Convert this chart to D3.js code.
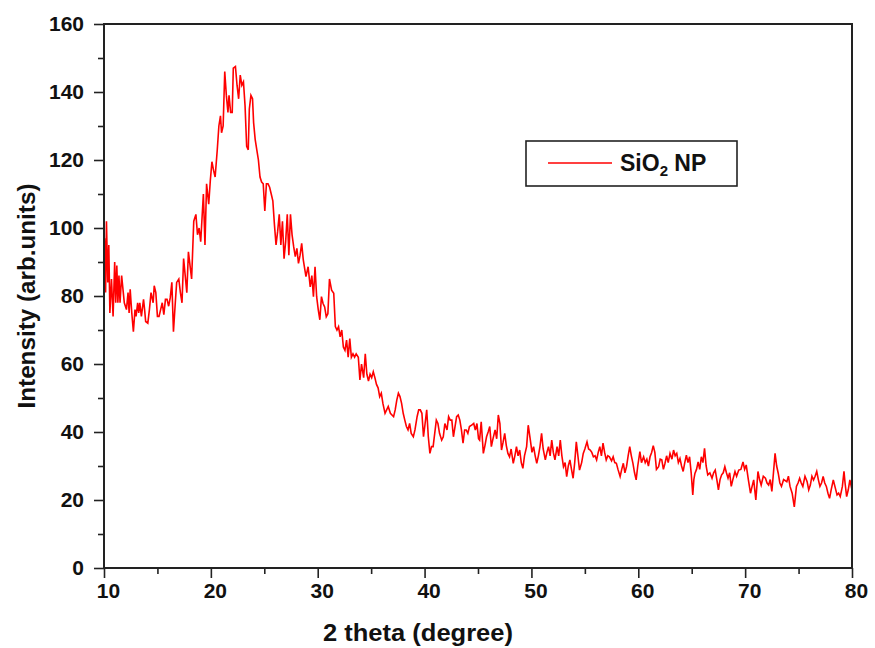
<!DOCTYPE html>
<html>
<head>
<meta charset="utf-8">
<script src="https://cdn.jsdelivr.net/npm/d3@7"></script>
<style>
  body { margin: 0; background: #fff; }
  svg text { font-family: "Liberation Sans", Arial, sans-serif; font-weight: bold; fill: #111; }
</style>
</head>
<body>
<svg id="xrd" width="875" height="648"></svg>
<script>
// tick values
var xTicks = [10, 20, 30, 40, 50, 60, 70, 80];
var yTicks = [0, 20, 40, 60, 80, 100, 120, 140, 160];
var seriesName = "SiO2 NP";

// XRD scan: [2 theta, intensity]
var scan = [
  [10.0,77],[10.05,97],[10.15,81],[10.23,102],[10.35,84],[10.45,95],[10.55,75],[10.7,85],[10.85,74],[11.0,90],
  [11.1,78],[11.2,89],[11.3,78],[11.4,86],[11.5,78],[11.65,86],[11.9,78],[12.1,76],[12.25,81],[12.35,75],
  [12.45,82],[12.6,75],[12.75,69.5],[12.9,76],[13.0,74],[13.15,78],[13.25,75],[13.35,78],[13.5,74],[13.7,79],
  [13.8,76],[13.9,72.5],[14.1,72],[14.25,76],[14.4,81],[14.6,78],[14.7,83],[14.85,81],[15.0,74],[15.15,74],
  [15.3,76],[15.45,78],[15.6,74.5],[15.75,79],[15.9,79],[16.05,77],[16.2,79.5],[16.35,84],[16.5,69.5],[16.65,77],
  [16.8,84],[17.0,85],[17.15,81],[17.3,78],[17.45,91],[17.6,86],[17.75,81],[17.9,93],[18.05,89],[18.2,85],
  [18.4,102],[18.6,104],[18.75,98],[18.9,100],[19.05,96],[19.3,110],[19.45,95],[19.6,113],[19.8,107],[19.95,114],
  [20.1,119.5],[20.25,117],[20.4,115],[20.6,123],[20.75,130],[20.9,133],[21.0,128],[21.15,130],[21.3,146],[21.45,139],
  [21.6,134],[21.7,139],[21.85,134],[22.0,134],[22.1,147],[22.3,147.5],[22.45,142],[22.6,138],[22.75,145],[22.9,142],
  [23.05,143],[23.2,136],[23.35,124],[23.5,123],[23.6,135],[23.75,139],[23.9,138],[24.0,131],[24.15,126],[24.3,123],
  [24.45,120],[24.6,115],[24.75,113.5],[24.9,113],[25.05,105],[25.2,113],[25.35,113],[25.5,112],[25.65,110],[25.8,108],
  [25.95,101],[26.1,95],[26.25,99],[26.4,104],[26.55,95],[26.7,102],[26.85,91],[27.0,96],[27.15,104],[27.3,92],
  [27.45,104],[27.6,98],[27.75,94.5],[27.9,91.6],[28.05,94],[28.2,89.6],[28.35,92],[28.5,95.5],[28.65,90.6],[28.9,85.7],
  [29.1,88.6],[29.3,82.7],[29.45,86],[29.6,79.8],[29.75,88.6],[29.9,79.8],[30.05,76],[30.2,73],[30.35,79.8],[30.5,77.8],
  [30.65,76.8],[30.8,73.9],[30.95,74.8],[31.1,85],[31.3,81.7],[31.5,80.8],[31.65,71],[31.8,70],[31.95,71],[32.1,68],
  [32.25,70],[32.4,65],[32.55,64],[32.7,67],[32.85,62],[33.0,67.5],[33.15,62],[33.3,63],[33.45,62],[33.6,63],
  [33.8,62],[33.95,55.3],[34.1,60],[34.3,56],[34.45,63],[34.6,57],[34.75,55],[34.9,57],[35.05,56],[35.2,57.7],
  [35.35,56],[35.5,54],[35.65,53],[35.8,50.4],[35.95,51.4],[36.1,48.4],[36.3,45.5],[36.45,46.5],[36.6,47.5],[36.8,45.5],
  [37.1,44.5],[37.25,46.5],[37.4,49.4],[37.55,51.4],[37.7,50.4],[37.85,48.4],[38.0,45.5],[38.15,43.5],[38.3,41.6],[38.45,40.6],
  [38.6,42.5],[38.75,39.6],[38.95,38.6],[39.1,40.6],[39.3,44.5],[39.45,46.5],[39.6,46.5],[39.75,45.5],[39.9,38.6],[40.05,42.5],
  [40.2,46.5],[40.35,38.6],[40.5,33.7],[40.65,35.7],[40.8,35.7],[40.95,39.6],[41.1,43.5],[41.25,42.5],[41.4,39.6],[41.6,37.6],
  [41.75,38.6],[41.9,42.5],[42.1,40.6],[42.25,44.5],[42.4,43.5],[42.55,43.5],[42.7,38.6],[42.85,41.6],[43.0,44.5],[43.15,45],
  [43.3,43.5],[43.45,40.6],[43.6,36.7],[43.75,40.6],[43.9,40.6],[44.05,39.6],[44.2,41.6],[44.4,42],[44.6,42.5],[44.75,40.6],
  [44.9,42.5],[45.05,38],[45.15,37.6],[45.3,43],[45.5,33.7],[45.65,36],[45.8,38.6],[45.95,40],[46.1,41.6],[46.25,35.7],
  [46.4,38],[46.6,40.6],[46.75,38],[46.9,45],[47.05,42.5],[47.2,34.7],[47.35,37],[47.5,39.6],[47.65,36],[47.8,33.7],
  [47.95,32.7],[48.1,35],[48.3,30.8],[48.45,33],[48.6,35.7],[48.75,33],[48.9,34.7],[49.05,31],[49.2,29.3],[49.35,33],
  [49.55,35.7],[49.7,42],[49.9,37.6],[50.05,34],[50.2,35.7],[50.35,33],[50.5,30.8],[50.65,33],[50.8,35.7],[50.95,39.6],
  [51.1,35],[51.3,31.8],[51.45,34],[51.6,35.7],[51.75,33],[51.9,37.6],[52.05,34],[52.2,31.8],[52.4,35.7],[52.55,33],
  [52.7,37.6],[52.85,33],[53.0,29.8],[53.15,31],[53.3,26.9],[53.45,30],[53.6,31.8],[53.75,29],[53.9,26.4],[54.05,31],
  [54.2,37.1],[54.35,33],[54.5,28.8],[54.7,31],[54.85,33.7],[55.0,35],[55.2,37.1],[55.35,35],[55.5,34.7],[55.65,34],
  [55.8,32.7],[55.95,33],[56.1,31.8],[56.25,34],[56.4,35.7],[56.55,33],[56.7,36.7],[56.85,34],[57.0,31.8],[57.15,33],
  [57.3,32.7],[57.5,31.5],[57.65,32.7],[57.8,31],[57.95,30.8],[58.1,29],[58.3,26.9],[58.45,29],[58.6,30.8],[58.75,28],
  [58.9,29.8],[59.05,33],[59.2,35.7],[59.35,33],[59.5,30.8],[59.65,28],[59.8,25.9],[59.95,30],[60.15,34.2],[60.3,31],
  [60.5,32.7],[60.65,31],[60.8,32],[60.95,30],[61.1,32.7],[61.25,34],[61.4,36],[61.55,34],[61.7,29],[61.9,29.8],
  [62.05,32],[62.2,31.8],[62.35,29],[62.5,30.8],[62.65,33],[62.8,31],[62.97,33.7],[63.15,32],[63.3,34.7],[63.45,33],
  [63.6,33.7],[63.75,31],[63.9,32.2],[64.05,30],[64.2,28.4],[64.35,31],[64.5,33.2],[64.65,31],[64.8,32.7],[64.95,28],
  [65.1,21.5],[65.2,26],[65.3,27.8],[65.45,29],[65.6,31.2],[65.75,29],[65.9,32.7],[66.05,31],[66.2,35.2],[66.35,30],
  [66.5,27.4],[66.7,28],[66.9,26.4],[67.05,28],[67.2,28.8],[67.35,26],[67.5,23],[67.65,26],[67.8,27.4],[67.95,28],
  [68.1,29.8],[68.25,28],[68.4,26.4],[68.55,28],[68.7,24],[68.85,26],[69.05,28.4],[69.2,27],[69.4,28.8],[69.6,29],
  [69.8,31.2],[69.95,29],[70.1,30.3],[70.3,26],[70.5,22],[70.65,24],[70.8,25.9],[70.9,23],[71.0,20],[71.2,28.4],
  [71.35,26],[71.5,24.4],[71.7,27],[71.9,26.4],[72.05,25],[72.2,24.4],[72.35,26],[72.5,22.5],[72.65,28],[72.8,33.7],
  [72.95,30],[73.1,27.8],[73.25,25],[73.4,24],[73.6,26],[73.9,25.4],[74.05,27],[74.2,24],[74.4,22],[74.6,18],
  [74.8,24],[74.95,25],[75.1,26.4],[75.25,25],[75.4,24],[75.6,27],[75.8,25.4],[75.95,23],[76.1,24.4],[76.25,27],
  [76.4,25.9],[76.55,27],[76.7,28.4],[76.85,26],[77.0,24],[77.15,25],[77.3,26.9],[77.45,25],[77.6,24],[77.75,22],
  [77.9,20.5],[78.05,23],[78.25,25.9],[78.4,24],[78.6,21.5],[78.75,22],[78.9,21],[79.1,24],[79.25,28.4],[79.35,25],
  [79.5,21],[79.65,23],[79.8,25.9],[80.0,23]
];

// define svg parameters
var svg = d3.select("#xrd"),
    margin = {top: 24, right: 23, bottom: 80, left: 104},
    width = +svg.attr("width") - margin.left - margin.right,
    height = +svg.attr("height") - margin.top - margin.bottom;

var x = d3.scaleLinear().domain([10, 80]).range([0, width]),
    y = d3.scaleLinear().domain([0, 160]).range([height, 0]);

var g = svg.append("g")
  .attr("transform", "translate(" + margin.left + "," + margin.top + ")");

// minor ticks
g.append("g")
  .attr("transform", "translate(0," + height + ")")
  .call(d3.axisBottom(x).tickValues(d3.range(15, 80, 10)).tickSize(6).tickFormat(""))
  .call(function(a) { a.select(".domain").remove(); a.selectAll("line").attr("stroke", "#222").attr("stroke-width", 1.6); });
g.append("g")
  .call(d3.axisLeft(y).tickValues(d3.range(10, 160, 20)).tickSize(6).tickFormat(""))
  .call(function(a) { a.select(".domain").remove(); a.selectAll("line").attr("stroke", "#222").attr("stroke-width", 1.6); });

// x axis
g.append("g")
  .attr("class", "axis axis--x")
  .attr("transform", "translate(0," + height + ")")
  .call(d3.axisBottom(x).tickValues(xTicks).tickSize(10).tickPadding(5).tickFormat(d3.format("d")))
  .call(function(a) {
    a.select(".domain").remove();
    a.selectAll("line").attr("stroke", "#222").attr("stroke-width", 1.6);
    a.selectAll("text").attr("dx", 4).style("font-size", "21px").style("fill", "#111").style("font-weight", "bold");
  });

// y axis
g.append("g")
  .attr("class", "axis axis--y")
  .call(d3.axisLeft(y).tickValues(yTicks).tickSize(10).tickPadding(10).tickFormat(d3.format("d")))
  .call(function(a) {
    a.select(".domain").remove();
    a.selectAll("line").attr("stroke", "#222").attr("stroke-width", 1.6);
    a.selectAll("text").style("font-size", "21px").style("fill", "#111").style("font-weight", "bold");
  });

// curve
var line = d3.line()
  .x(function(d) { return x(d[0]); })
  .y(function(d) { return y(d[1]); });

g.append("path")
  .datum(scan)
  .attr("fill", "none")
  .attr("stroke", "#ff0000")
  .attr("stroke-width", 1.6)
  .attr("d", line);

// frame
g.append("rect")
  .attr("width", width)
  .attr("height", height)
  .attr("fill", "none")
  .attr("stroke", "#222")
  .attr("stroke-width", 2);

// axis titles
svg.append("text")
  .attr("transform", "translate(35,296) rotate(-90)")
  .attr("text-anchor", "middle")
  .attr("textLength", 225)
  .attr("lengthAdjust", "spacingAndGlyphs")
  .style("font-size", "23px")
  .text("Intensity (arb.units)");

svg.append("text")
  .attr("x", 418)
  .attr("y", 641)
  .attr("text-anchor", "middle")
  .attr("textLength", 190)
  .attr("lengthAdjust", "spacingAndGlyphs")
  .style("font-size", "23px")
  .text("2 theta (degree)");

// legend
var legend = svg.append("g").attr("transform", "translate(526,141)");
legend.append("rect")
  .attr("width", 211)
  .attr("height", 45)
  .attr("fill", "#fff")
  .attr("stroke", "#222")
  .attr("stroke-width", 1.6);
legend.append("line")
  .attr("x1", 22).attr("x2", 86)
  .attr("y1", 22).attr("y2", 22)
  .attr("stroke", "#ff0000")
  .attr("stroke-width", 1.5);
var lt = legend.append("text")
  .attr("x", 94)
  .attr("y", 30)
  .style("font-size", "23px");
lt.append("tspan").text(seriesName.slice(0, 3));
lt.append("tspan").attr("dy", 5).style("font-size", "15px").text(seriesName.slice(3, 4));
lt.append("tspan").attr("dy", -5).text(" " + seriesName.slice(4));
</script>
</body>
</html>
